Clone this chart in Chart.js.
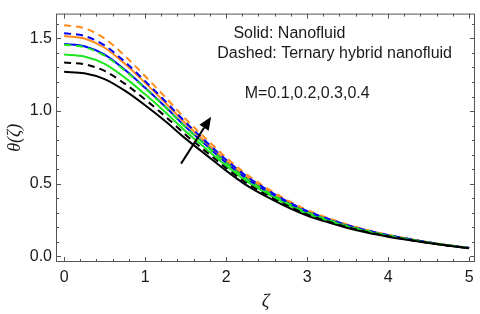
<!DOCTYPE html>
<html>
<head>
<meta charset="utf-8">
<script src="https://cdn.jsdelivr.net/npm/chart.js@4/dist/chart.umd.min.js"></script>
<style>
  html, body { margin: 0; padding: 0; background: #fff; }
  #wrap { width: 480px; height: 314px; position: relative; }
</style>
</head>
<body>
<div id="wrap"><canvas id="thetaChart"></canvas></div>
<script>
// Data
const zetaValues = [0, 0.25, 0.5, 0.75, 1, 1.25, 1.5, 1.75, 2, 2.25, 2.5, 2.75, 3, 3.25, 3.5, 3.75, 4, 4.25, 4.5, 4.75, 5];

// Solid: Nanofluid
const blackSolid  = [1.27, 1.26, 1.22, 1.14, 1.04, 0.93, 0.81, 0.70, 0.59, 0.49, 0.41, 0.34, 0.28, 0.235, 0.195, 0.162, 0.135, 0.112, 0.091, 0.072, 0.055];
const greenSolid  = [1.39, 1.376, 1.325, 1.23, 1.115, 0.992, 0.861, 0.741, 0.624, 0.518, 0.433, 0.358, 0.294, 0.246, 0.204, 0.169, 0.14, 0.115, 0.093, 0.074, 0.056];
const blueSolid   = [1.462, 1.446, 1.388, 1.284, 1.16, 1.029, 0.891, 0.766, 0.644, 0.535, 0.446, 0.369, 0.303, 0.253, 0.209, 0.173, 0.143, 0.117, 0.095, 0.074, 0.057];
const orangeSolid = [1.516, 1.499, 1.436, 1.325, 1.194, 1.057, 0.914, 0.785, 0.659, 0.548, 0.456, 0.377, 0.309, 0.258, 0.213, 0.176, 0.145, 0.119, 0.096, 0.075, 0.057];

// Dashed: Ternary hybrid nanofluid
const blackDashed  = [1.334, 1.322, 1.276, 1.188, 1.08, 0.963, 0.837, 0.722, 0.608, 0.505, 0.422, 0.35, 0.288, 0.241, 0.2, 0.166, 0.138, 0.114, 0.092, 0.073, 0.056];
const greenDashed  = [1.456, 1.44, 1.382, 1.279, 1.156, 1.026, 0.888, 0.764, 0.642, 0.534, 0.445, 0.368, 0.302, 0.252, 0.208, 0.172, 0.143, 0.117, 0.095, 0.074, 0.057];
const blueDashed   = [1.536, 1.517, 1.452, 1.339, 1.206, 1.067, 0.922, 0.791, 0.665, 0.552, 0.46, 0.38, 0.312, 0.26, 0.214, 0.177, 0.146, 0.12, 0.096, 0.075, 0.058];
const orangeDashed = [1.59, 1.57, 1.50, 1.38, 1.24, 1.095, 0.945, 0.81, 0.68, 0.565, 0.47, 0.388, 0.318, 0.265, 0.218, 0.18, 0.148, 0.121, 0.097, 0.076, 0.058];

// Axis ticks
const xTicks = [0, 1, 2, 3, 4, 5];
const yTicks = [0, 0.5, 1, 1.5];

// Colours
const BLACK = '#000000';
const GREEN = '#1ee61e';
const BLUE = '#0000ff';
const ORANGE = '#ff8c1a';
const TEXT = '#1a1a1a';

function toPoints(values) {
    return values.map((v, i) => ({ x: zetaValues[i], y: v }));
}

function makeSet(label, values, color, dashed) {
    return {
        label: label,
        data: toPoints(values),
        borderColor: color,
        borderWidth: 2,
        borderDash: dashed ? [7, 5] : [],
        pointRadius: 0,
        fill: false,
        cubicInterpolationMode: 'monotone'
    };
}

// Frame, inward ticks, annotation text and arrow
const framePlugin = {
    id: 'frame',
    afterDatasetsDraw(chart) {
        const ctx = chart.ctx;
        const area = chart.chartArea;
        const xs = chart.scales.x;
        const ys = chart.scales.y;
        ctx.save();

        // frame
        ctx.strokeStyle = '#555';
        ctx.lineWidth = 1;
        ctx.strokeRect(area.left + 0.5, area.top + 0.5, area.right - area.left - 1, area.bottom - area.top - 1);

        // x ticks (bottom and top)
        ctx.beginPath();
        for (let i = 0; i <= 25; i++) {
            const v = i * 0.2;
            const px = Math.round(xs.getPixelForValue(v)) + 0.5;
            const len = (i % 5 === 0) ? 5 : 3;
            ctx.moveTo(px, area.bottom);
            ctx.lineTo(px, area.bottom - len);
            ctx.moveTo(px, area.top);
            ctx.lineTo(px, area.top + len);
        }
        // y ticks (left and right)
        for (let i = 0; i <= 16; i++) {
            const v = i * 0.1;
            const py = Math.round(ys.getPixelForValue(v)) + 0.5;
            const len = (i % 5 === 0) ? 5 : 3;
            ctx.moveTo(area.left, py);
            ctx.lineTo(area.left + len, py);
            ctx.moveTo(area.right, py);
            ctx.lineTo(area.right - len, py);
        }
        ctx.stroke();

        // text labels inside the plot
        ctx.fillStyle = TEXT;
        ctx.font = '16px "Liberation Sans", Arial, sans-serif';
        ctx.textAlign = 'left';
        ctx.textBaseline = 'middle';
        ctx.fillText('Solid: Nanofluid', xs.getPixelForValue(2.09), ys.getPixelForValue(1.533));
        ctx.fillText('Dashed: Ternary hybrid nanofluid', xs.getPixelForValue(1.89), ys.getPixelForValue(1.395));
        ctx.fillText('M=0.1,0.2,0.3,0.4', xs.getPixelForValue(2.23), ys.getPixelForValue(1.118));

        // arrow showing increasing M
        const x0 = xs.getPixelForValue(1.444), y0 = ys.getPixelForValue(0.638);
        const x1 = xs.getPixelForValue(1.815), y1 = ys.getPixelForValue(0.96);
        const ang = Math.atan2(y1 - y0, x1 - x0);
        const headLen = 13, headW = 5.5;
        const bx = x1 - headLen * Math.cos(ang), by = y1 - headLen * Math.sin(ang);
        ctx.strokeStyle = '#000';
        ctx.lineWidth = 2;
        ctx.beginPath();
        ctx.moveTo(x0, y0);
        ctx.lineTo(bx, by);
        ctx.stroke();
        ctx.fillStyle = '#000';
        ctx.beginPath();
        ctx.moveTo(x1, y1);
        ctx.lineTo(bx + headW * Math.sin(ang), by - headW * Math.cos(ang));
        ctx.lineTo(bx - headW * Math.sin(ang), by + headW * Math.cos(ang));
        ctx.closePath();
        ctx.fill();

        ctx.restore();
    }
};

const ctx = document.getElementById('thetaChart').getContext('2d');
const thetaChart = new Chart(ctx, {
    type: 'line',
    data: {
        datasets: [
            makeSet('Nanofluid M=0.1', blackSolid, BLACK, false),
            makeSet('Ternary M=0.1', blackDashed, BLACK, true),
            makeSet('Nanofluid M=0.2', greenSolid, GREEN, false),
            makeSet('Ternary M=0.2', greenDashed, GREEN, true),
            makeSet('Nanofluid M=0.3', blueSolid, BLUE, false),
            makeSet('Ternary M=0.3', blueDashed, BLUE, true),
            makeSet('Nanofluid M=0.4', orangeSolid, ORANGE, false),
            makeSet('Ternary M=0.4', orangeDashed, ORANGE, true)
        ]
    },
    options: {
        responsive: true,
        maintainAspectRatio: false,
        animation: false,
        layout: {
            padding: { left: 0, right: 5, top: 2, bottom: 0 }
        },
        plugins: {
            legend: { display: false },
            tooltip: { enabled: false }
        },
        scales: {
            x: {
                type: 'linear',
                min: -0.1,
                max: 5.073,
                afterFit: function(scale) { scale.height = 52; },
                afterBuildTicks: function(scale) {
                    scale.ticks = xTicks.map(v => ({ value: v }));
                },
                grid: { display: false, drawTicks: false },
                border: { display: false },
                ticks: {
                    padding: 6,
                    color: TEXT,
                    font: { family: 'Liberation Sans', size: 16 },
                    maxRotation: 0,
                    callback: function(value) { return String(value); }
                },
                title: {
                    display: true,
                    text: 'ζ',
                    color: TEXT,
                    font: { family: 'Liberation Serif', size: 19, style: 'italic' },
                    padding: { top: 0, bottom: 1 }
                }
            },
            y: {
                type: 'linear',
                min: -0.0395,
                max: 1.671,
                afterFit: function(scale) { scale.width = 56; },
                afterBuildTicks: function(scale) {
                    scale.ticks = yTicks.map(v => ({ value: v }));
                },
                grid: { display: false, drawTicks: false },
                border: { display: false },
                ticks: {
                    padding: 4,
                    color: TEXT,
                    font: { family: 'Liberation Sans', size: 16 },
                    callback: function(value) { return value.toFixed(1); }
                },
                title: {
                    display: true,
                    text: 'θ(ζ)',
                    color: TEXT,
                    font: { family: 'Liberation Serif', size: 18, style: 'italic' },
                    padding: { top: 4, bottom: 0 }
                }
            }
        }
    },
    plugins: [framePlugin]
});
</script>
</body>
</html>
